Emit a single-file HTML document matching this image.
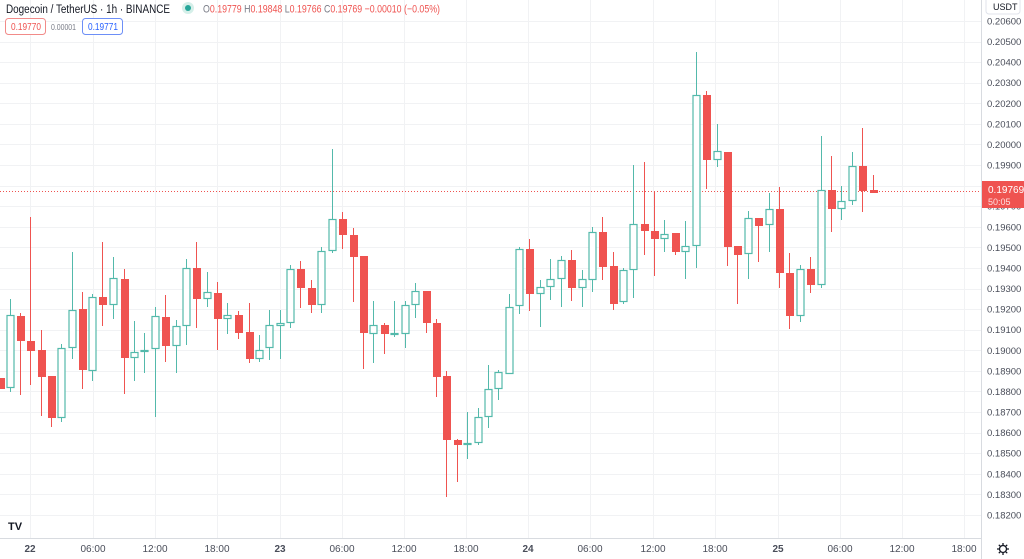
<!DOCTYPE html>
<html><head><meta charset="utf-8"><style>
body{margin:0;background:#fff;width:1024px;height:559px;overflow:hidden;font-family:"Liberation Sans",sans-serif}
svg{display:block}
</style></head><body>
<svg id="c" width="1024" height="559" xmlns="http://www.w3.org/2000/svg" font-family="Liberation Sans, sans-serif">
<g id="grid" stroke="#f1f2f4" stroke-width="1"></g>
<line x1="0" y1="191.5" x2="981" y2="191.5" stroke="#ef5350" stroke-width="1" stroke-dasharray="1,2"/>
<g id="candles"></g>
<line x1="981.5" y1="0" x2="981.5" y2="559" stroke="#d8dbe0"/>
<line x1="0" y1="538.5" x2="981" y2="538.5" stroke="#d8dbe0"/>
<g id="plabels" font-size="9.5" fill="#4a4e5a"></g>
<g id="tlabels" font-size="10" fill="#4a4e5a" text-anchor="middle"></g>
<rect x="982" y="181" width="42" height="27" fill="#ef5350"/>
<text x="988" y="193" font-size="10" fill="#fff">0.19769</text>
<text x="988" y="205" font-size="9" fill="#fde0e0">50:05</text>
<rect x="986" y="-4" width="34" height="18" rx="3" fill="#fff" stroke="#e0e3eb"/>
<text x="993" y="10" font-size="9" fill="#131722">USDT</text>
<text x="6" y="13" font-size="11.5" fill="#131722" textLength="164" lengthAdjust="spacingAndGlyphs">Dogecoin / TetherUS · 1h · BINANCE</text>
<circle cx="188" cy="8" r="6" fill="#d5efe9"/><circle cx="188" cy="8" r="3" fill="#26a69a"/>
<text x="203" y="12.5" font-size="11" fill="#ef5350" textLength="237" lengthAdjust="spacingAndGlyphs"><tspan fill="#787b86">O</tspan>0.19779 <tspan fill="#787b86">H</tspan>0.19848 <tspan fill="#787b86">L</tspan>0.19766 <tspan fill="#787b86">C</tspan>0.19769 −0.00010 (−0.05%)</text>
<rect x="5.5" y="18.5" width="40" height="16" rx="3" fill="#fff" stroke="#f28b89"/>
<text x="11" y="30" font-size="10" fill="#ef5350" textLength="30" lengthAdjust="spacingAndGlyphs">0.19770</text>
<text x="51" y="30" font-size="8" fill="#787b86" textLength="25" lengthAdjust="spacingAndGlyphs">0.00001</text>
<rect x="82.5" y="18.5" width="40" height="16" rx="3" fill="#fff" stroke="#6d8ff7"/>
<text x="88" y="30" font-size="10" fill="#2962ff" textLength="30" lengthAdjust="spacingAndGlyphs">0.19771</text>
<g transform="translate(8,519)"><text x="0" y="11" font-size="11" font-weight="bold" fill="#131722">TV</text></g>
<g transform="translate(1003,549)" fill="none" stroke="#131722" stroke-width="1.3"><circle r="3.5"/><path d="M0,-6V-4M0,4V6M-6,0H-4M4,0H6M-4.2,-4.2L-2.8,-2.8M2.8,2.8L4.2,4.2M-4.2,4.2L-2.8,2.8M2.8,-2.8L4.2,-4.2"/></g>
</svg>
<script>
var NS="http://www.w3.org/2000/svg";
function el(p,t,a,txt){var e=document.createElementNS(NS,t);for(var k in a)e.setAttribute(k,a[k]);if(txt)e.textContent=txt;p.appendChild(e);return e;}
var g=document.getElementById('grid'),pl=document.getElementById('plabels'),tl=document.getElementById('tlabels');
for(var i=0;i<=24;i++){var y=21+i*20.583;var yy=Math.round(y)+0.5;el(g,'line',{x1:0,y1:yy,x2:981,y2:yy});
var v=(0.206-i*0.001).toFixed(5);el(pl,'text',{x:987,y:y+3.5},v);}
var tx=[30,93,155,217,280,342,404,466,528,590,653,715,778,840,902,964],tn=['22','06:00','12:00','18:00','23','06:00','12:00','18:00','24','06:00','12:00','18:00','25','06:00','12:00','18:00'];
for(var i=0;i<tx.length;i++){el(g,'line',{x1:tx[i]+0.5,y1:0,x2:tx[i]+0.5,y2:538});el(tl,'text',{x:tx[i],y:552,'font-weight':(tn[i].length<3?'bold':'normal')},tn[i]);}
var C=[[0,378,389,378,389,0],[10,315,388,299,392,1],[20,316,341,313,395,0],[30,341,351,217,385,0],[41,350,377,330,416,0],[51,376,418,376,427,0],[61,348,418,344,422,1],[72,310,348,252,359,1],[82,309,370,292,389,0],[92,297,371,294,381,1],[102,297,305,242,326,0],[113,278,305,257,319,1],[124,279,358,269,394,0],[134,352,358,321,381,1],[144,350,352,333,373,1],[155,316,349,307,417,1],[165,317,346,295,362,0],[176,326,346,320,373,1],[186,268,326,259,345,1],[196,268,299,242,328,0],[207,292,299,272,307,1],[217,293,319,282,350,0],[227,315,319,303,334,1],[238,315,333,311,339,0],[249,332,359,303,363,0],[259,350,359,335,362,1],[269,325,348,310,360,1],[280,323,326,310,359,1],[290,269,323,265,328,1],[300,269,288,261,308,0],[311,288,305,280,313,0],[321,251,305,247,313,1],[332,219,251,149,253,1],[342,219,235,212,249,0],[353,235,257,228,302,0],[363,256,333,256,369,0],[373,325,334,301,363,1],[384,325,334,323,354,0],[394,333,335,301,337,1],[405,305,334,301,348,1],[415,291,305,283,318,1],[426,291,323,291,333,0],[436,323,377,319,397,0],[446,376,440,371,497,0],[457,440,445,439,482,0],[467,443,445,412,459,1],[478,417,443,408,445,1],[488,389,417,365,428,1],[498,372,389,370,400,1],[509,307,374,294,374,1],[519,249,306,247,314,1],[529,249,294,239,311,0],[540,287,294,280,327,1],[550,279,287,259,300,1],[561,260,279,256,307,1],[571,260,288,250,301,0],[582,279,288,270,307,1],[592,232,280,227,292,1],[602,232,267,217,280,0],[613,266,304,252,310,0],[623,270,302,268,304,1],[633,224,270,165,298,1],[644,224,231,162,255,0],[654,231,239,191,276,0],[664,234,239,220,252,1],[675,233,252,233,255,0],[685,246,252,221,279,1],[696,95,246,52,268,1],[706,95,160,91,189,0],[717,151,160,124,167,1],[727,152,247,152,266,0],[737,246,255,246,304,0],[748,218,254,211,279,1],[758,218,226,218,262,0],[769,209,225,193,252,1],[779,209,273,187,288,0],[789,273,316,253,329,0],[800,269,316,265,322,1],[810,269,285,257,293,0],[821,190,285,136,288,1],[831,190,209,156,232,0],[841,201,209,186,220,1],[852,166,201,152,205,1],[862,166,191,128,212,0],[873,190,193,175,193,0]];
var cg=document.getElementById('candles');
C.forEach(function(c){var x=c[0],up=c[5],col=up?'#53b9ab':'#ef5350';
el(cg,'line',{x1:x+0.5,y1:c[3],x2:x+0.5,y2:c[4],stroke:col,'stroke-width':1});
var h=Math.max(c[2]-c[1],2);
if(up){el(cg,'rect',{x:x-3,y:c[1]+0.5,width:7,height:h-1,fill:'#fff',stroke:col,'stroke-width':1.2});}
else{el(cg,'rect',{x:x-3,y:c[1],width:8,height:h,fill:col});}
});
</script>
</body></html>
